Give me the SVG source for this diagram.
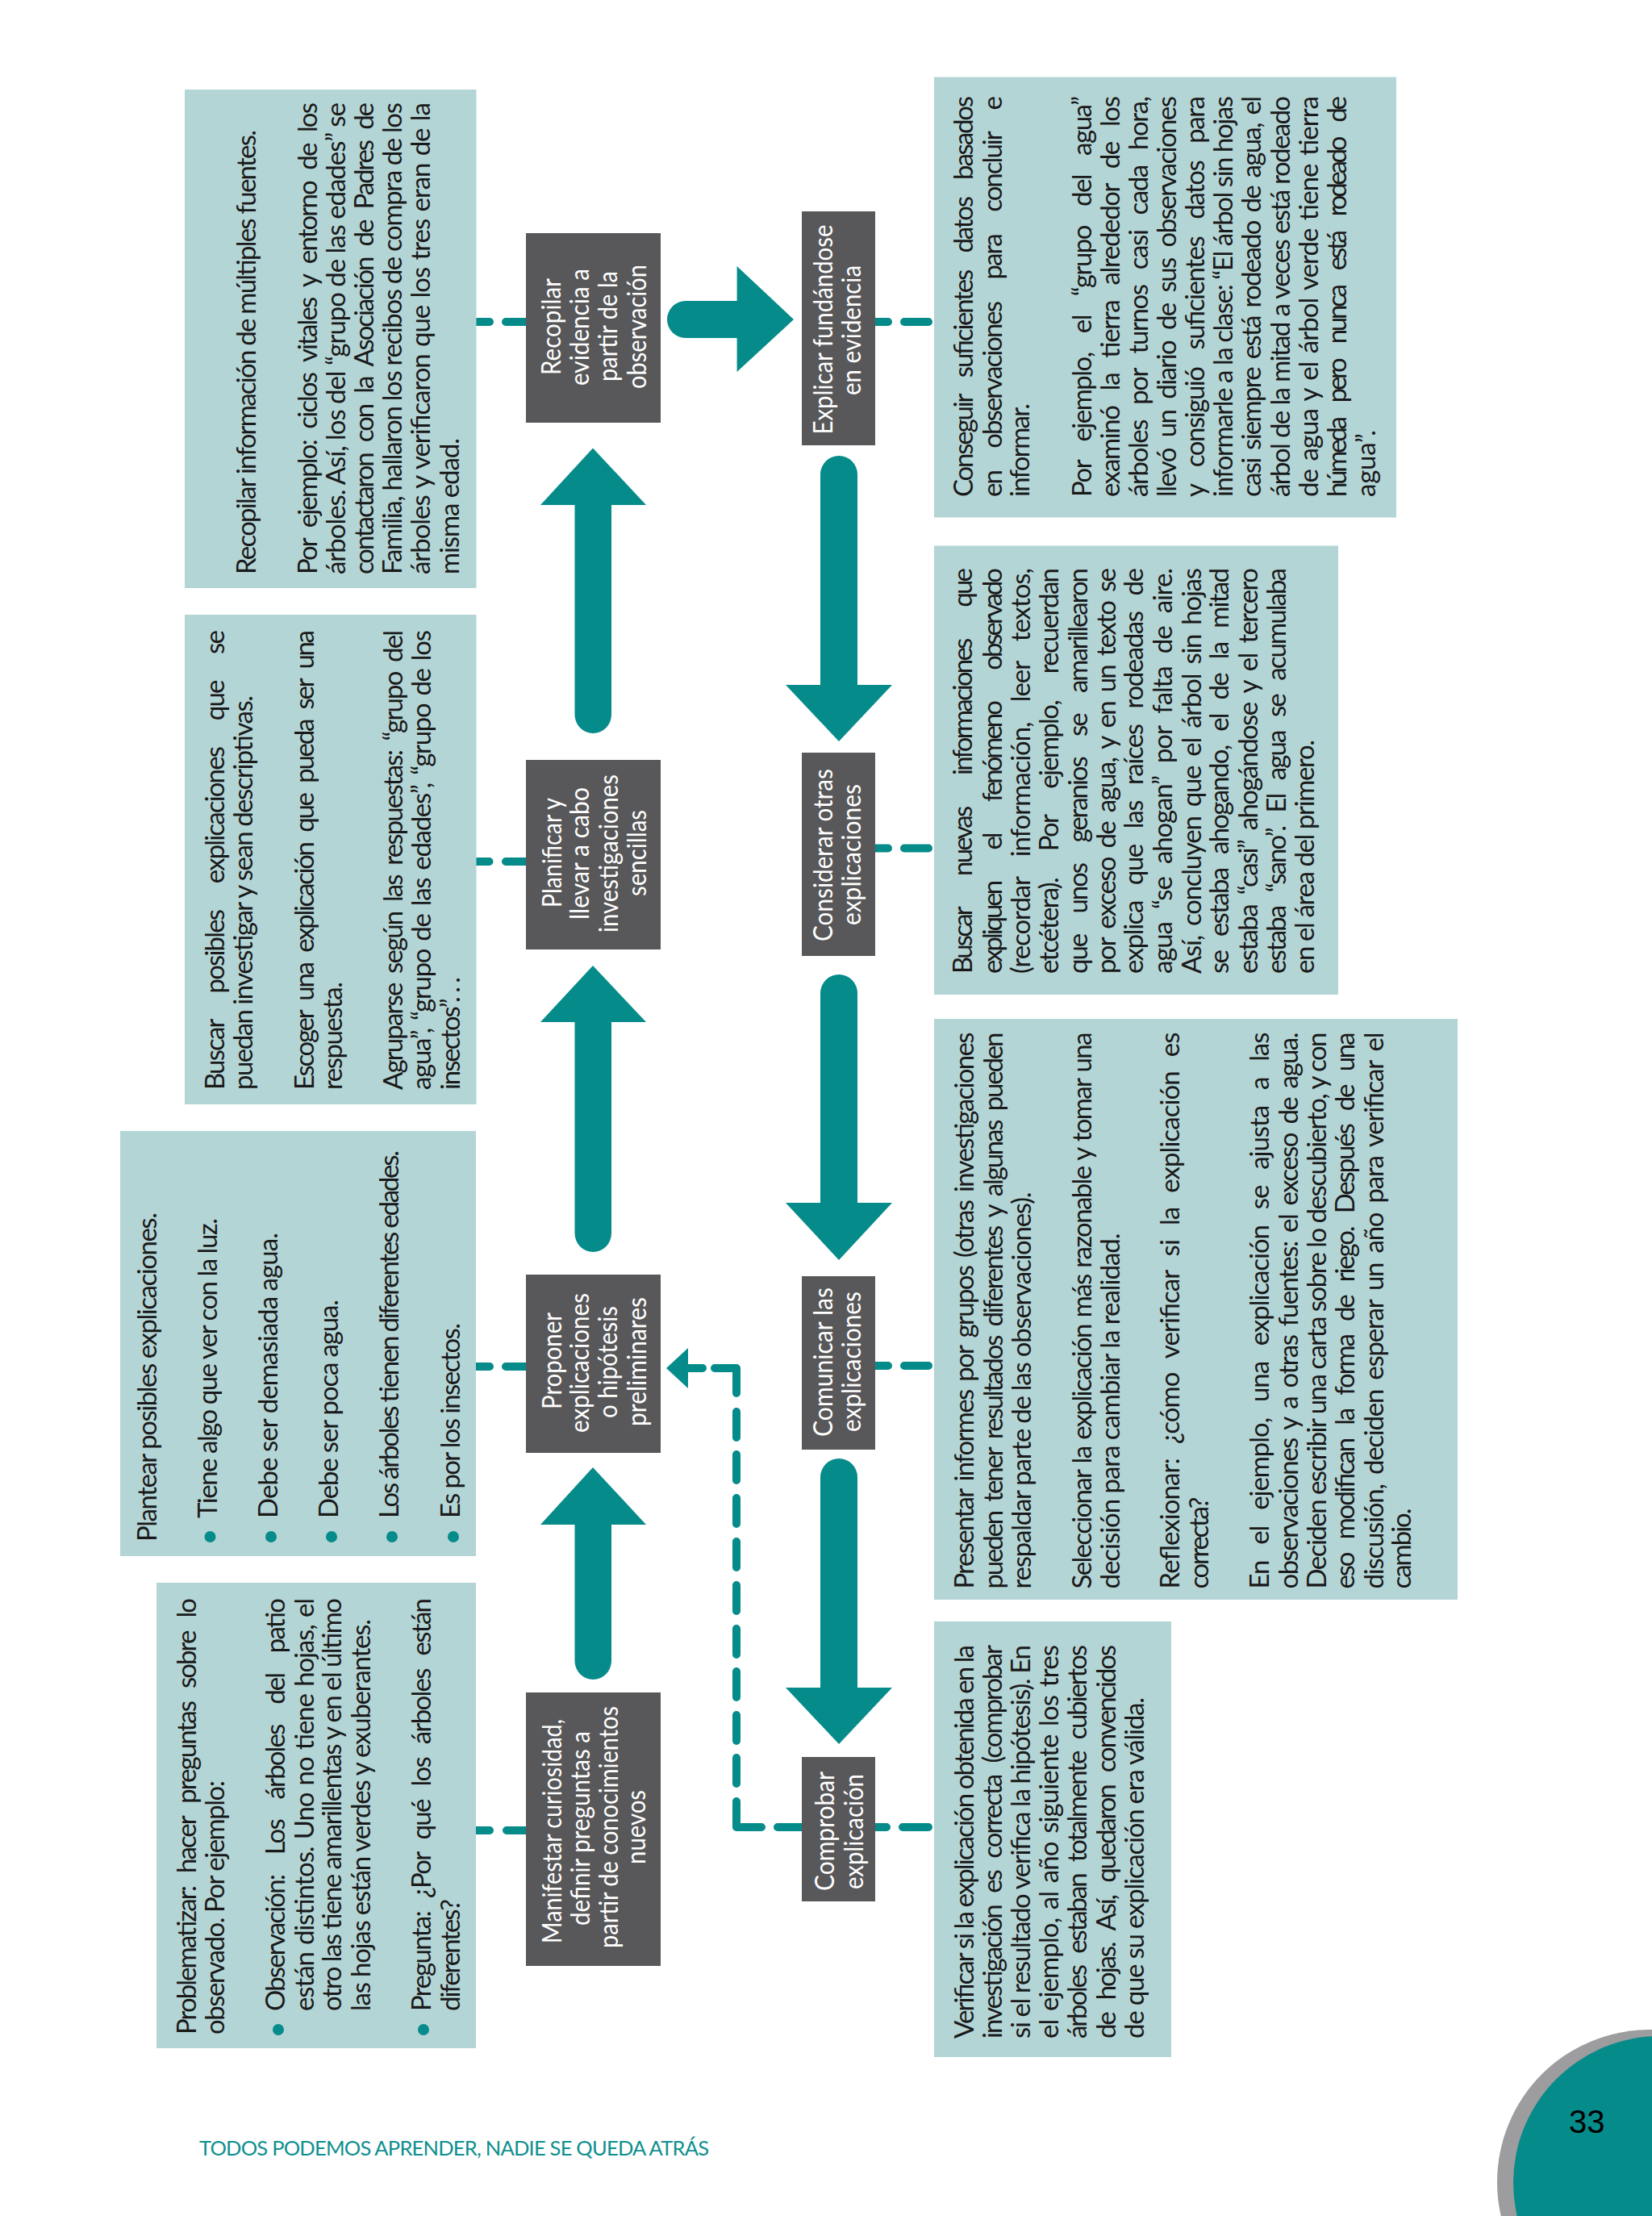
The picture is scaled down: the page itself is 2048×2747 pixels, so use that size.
<svg xmlns="http://www.w3.org/2000/svg" width="2048" height="2747" viewBox="0 0 2048 2747">
<style>
.card{fill:#b4d5d6}
.step{fill:#58585a}
.big{fill:#068b8b}
.dash{fill:none;stroke:#068b8b;stroke-width:10;stroke-linecap:round;stroke-linejoin:round}
.bul{fill:#068b8b}
.b{font-family:"Lato","Liberation Sans",sans-serif;font-size:33px;fill:#1a1a1a}
.n{font-family:"Lato","Liberation Sans",sans-serif;font-size:32px;font-weight:400;fill:#fff}
.foot{font-family:"Lato","Liberation Sans",sans-serif;font-size:25.500px;fill:#0e8f8f}
.num{font-family:"Liberation Sans",sans-serif;font-size:40px;fill:#000}
</style>
<rect width="2048" height="2747" fill="#fff"/>
<g id="connectors">
<path class="dash" d="M585 2269H607M628 2269H652M585 1694H607M627 1694H652M585 1068H606.500M627 1068H652M585 399H607M627 399H652"/>
<path class="dash" d="M1085 399H1101M1121 399H1151M1085 1051.500H1101M1121 1051.500H1151M1085 1693H1101M1121 1693H1151M1085 2265H1099M1119 2265H1151"/>
<path class="dash" d="M964 2265H994M944 2265H913V2233M913 2179V2211M913 2126V2158M913 2072V2104M913 2019V2051M913 1965V1997M913 1911V1943M913 1857V1889M913 1803V1835M913 1750V1782M913 1727V1696H886M871 1696H853"/>
<polygon class="big" points="826,1696 853,1671 853,1721"/>
<path class="big" d="M712.500 2059V1890H670L735 1819L801 1890H758V2059A22.750 23 0 0 1 712.500 2059Z"/>
<path class="big" d="M712.500 1529V1267H670L735 1197L801 1267H758V1529A22.750 23 0 0 1 712.500 1529Z"/>
<path class="big" d="M712.500 886V626H670L735 555.500L801 626H758V886A22.750 23 0 0 1 712.500 886Z"/>
<path class="big" d="M850 373H913.600V330L984 396L913.600 461V419H850A23 23 0 0 1 850 373Z"/>
<path class="big" d="M1017 588A23 23 0 0 1 1063 588V849H1106L1040 919L974 849H1017Z"/>
<path class="big" d="M1017 1231A23 23 0 0 1 1063 1231V1491H1106L1040 1562L974 1491H1017Z"/>
<path class="big" d="M1017 1831A23 23 0 0 1 1063 1831V2092H1106L1040 2162L974 2092H1017Z"/>
</g>
<g id="card-problematizar">
<rect class="card" x="194" y="1962" width="396" height="577"/>
<circle class="bul" cx="345" cy="2516" r="7"/><circle class="bul" cx="525" cy="2516" r="7"/>
<text class="b" transform="translate(243 2522) rotate(-90)" textLength="541" word-spacing="10.500">Problematizar: hacer preguntas sobre lo</text>
<text class="b" transform="translate(278 2522) rotate(-90)" textLength="315">observado. Por ejemplo:</text>
<text class="b" transform="translate(353 2493) rotate(-90)" textLength="512" word-spacing="19">Observación: Los árboles del patio</text>
<text class="b" transform="translate(389 2493) rotate(-90)" textLength="512" word-spacing="2">están distintos. Uno no tiene hojas, el</text>
<text class="b" transform="translate(423 2493) rotate(-90)" textLength="512">otro las tiene amarillentas y en el último</text>
<text class="b" transform="translate(459 2493) rotate(-90)" textLength="486">las hojas están verdes y exuberantes.</text>
<text class="b" transform="translate(534 2493) rotate(-90)" textLength="512" word-spacing="10">Pregunta: ¿Por qué los árboles están</text>
<text class="b" transform="translate(570 2493) rotate(-90)" textLength="139">diferentes?</text>
</g>
<g id="card-plantear">
<rect class="card" x="149" y="1402" width="441" height="527"/>
<circle class="bul" cx="260.500" cy="1905" r="7"/><circle class="bul" cx="336" cy="1905" r="7"/><circle class="bul" cx="411" cy="1905" r="7"/><circle class="bul" cx="486" cy="1905" r="7"/><circle class="bul" cx="562" cy="1905" r="7"/>
<text class="b" transform="translate(194 1911) rotate(-90)" textLength="408">Plantear posibles explicaciones.</text>
<text class="b" transform="translate(269 1882) rotate(-90)" textLength="372">Tiene algo que ver con la luz.</text>
<text class="b" transform="translate(344 1882) rotate(-90)" textLength="354">Debe ser demasiada agua.</text>
<text class="b" transform="translate(419 1882) rotate(-90)" textLength="271">Debe ser poca agua.</text>
<text class="b" transform="translate(494 1882) rotate(-90)" textLength="456">Los árboles tienen diferentes edades.</text>
<text class="b" transform="translate(569.500 1882) rotate(-90)" textLength="242">Es por los insectos.</text>
</g>
<g id="card-buscar-posibles">
<rect class="card" x="229" y="762" width="361.500" height="607"/>
<text class="b" transform="translate(278 1351) rotate(-90)" textLength="570" word-spacing="27">Buscar posibles explicaciones que se</text>
<text class="b" transform="translate(313 1351) rotate(-90)" textLength="489">puedan investigar y sean descriptivas.</text>
<text class="b" transform="translate(389 1351) rotate(-90)" textLength="570" word-spacing="7.500">Escoger una explicación que pueda ser una</text>
<text class="b" transform="translate(424 1351) rotate(-90)" textLength="134">respuesta.</text>
<text class="b" transform="translate(499 1351) rotate(-90)" textLength="570" word-spacing="6">Agruparse según las respuestas: “grupo del</text>
<text class="b" transform="translate(533.500 1351) rotate(-90)" textLength="570" word-spacing="3">agua”, “grupo de las edades”, “grupo de los</text>
<text class="b" transform="translate(570 1351) rotate(-90)" textLength="140">insectos”. . .</text>
</g>
<g id="card-recopilar">
<rect class="card" x="229" y="111" width="361.500" height="618"/>
<text class="b" transform="translate(317 712) rotate(-90)" textLength="551">Recopilar información de múltiples fuentes.</text>
<text class="b" transform="translate(393 712) rotate(-90)" textLength="585" word-spacing="8">Por ejemplo: ciclos vitales y entorno de los</text>
<text class="b" transform="translate(427.600 712) rotate(-90)" textLength="585">árboles. Así, los del “grupo de las edades” se</text>
<text class="b" transform="translate(463 712) rotate(-90)" textLength="585" word-spacing="8">contactaron con la Asociación de Padres de</text>
<text class="b" transform="translate(498 712) rotate(-90)" textLength="585">Familia, hallaron los recibos de compra de los</text>
<text class="b" transform="translate(533 712) rotate(-90)" textLength="585" word-spacing="2">árboles y verificaron que los tres eran de la</text>
<text class="b" transform="translate(569 712) rotate(-90)" textLength="169">misma edad.</text>
</g>
<g id="card-conseguir">
<rect class="card" x="1158" y="95.500" width="573" height="546"/>
<text class="b" transform="translate(1206 616) rotate(-90)" textLength="497" word-spacing="16">Conseguir suficientes datos basados</text>
<text class="b" transform="translate(1242 616) rotate(-90)" textLength="497" word-spacing="22">en observaciones para concluir e</text>
<text class="b" transform="translate(1276 616) rotate(-90)" textLength="116">informar.</text>
<text class="b" transform="translate(1353 616) rotate(-90)" textLength="497" word-spacing="17">Por ejemplo, el “grupo del agua”</text>
<text class="b" transform="translate(1388 616) rotate(-90)" textLength="497" word-spacing="12">examinó la tierra alrededor de los</text>
<text class="b" transform="translate(1423 616) rotate(-90)" textLength="497" word-spacing="12">árboles por turnos casi cada hora,</text>
<text class="b" transform="translate(1457.500 616) rotate(-90)" textLength="497" word-spacing="7">llevó un diario de sus observaciones</text>
<text class="b" transform="translate(1493 616) rotate(-90)" textLength="497" word-spacing="15">y consiguió suficientes datos para</text>
<text class="b" transform="translate(1527.500 616) rotate(-90)" textLength="497">informarle a la clase: “El árbol sin hojas</text>
<text class="b" transform="translate(1563 616) rotate(-90)" textLength="497" word-spacing="4">casi siempre está rodeado de agua, el</text>
<text class="b" transform="translate(1599 616) rotate(-90)" textLength="497" word-spacing="1">árbol de la mitad a veces está rodeado</text>
<text class="b" transform="translate(1634 616) rotate(-90)" textLength="497" word-spacing="3">de agua y el árbol verde tiene tierra</text>
<text class="b" transform="translate(1669 616) rotate(-90)" textLength="497" word-spacing="15">húmeda pero nunca está rodeado de</text>
<text class="b" transform="translate(1705 616) rotate(-90)" textLength="83">agua”.</text>
</g>
<g id="card-buscar-nuevas">
<rect class="card" x="1158" y="676.500" width="501" height="556.500"/>
<text class="b" transform="translate(1205 1207) rotate(-90)" textLength="503" word-spacing="35">Buscar nuevas informaciones que</text>
<text class="b" transform="translate(1242 1207) rotate(-90)" textLength="503" word-spacing="35">expliquen el fenómeno observado</text>
<text class="b" transform="translate(1277 1207) rotate(-90)" textLength="503" word-spacing="18">(recordar información, leer textos,</text>
<text class="b" transform="translate(1311.500 1207) rotate(-90)" textLength="503" word-spacing="27">etcétera). Por ejemplo, recuerdan</text>
<text class="b" transform="translate(1348 1207) rotate(-90)" textLength="503" word-spacing="20">que unos geranios se amarillearon</text>
<text class="b" transform="translate(1383 1207) rotate(-90)" textLength="503" word-spacing="5">por exceso de agua, y en un texto se</text>
<text class="b" transform="translate(1417 1207) rotate(-90)" textLength="503" word-spacing="13">explica que las raíces rodeadas de</text>
<text class="b" transform="translate(1453 1207) rotate(-90)" textLength="503" word-spacing="9">agua “se ahogan” por falta de aire.</text>
<text class="b" transform="translate(1488.500 1207) rotate(-90)" textLength="503" word-spacing="5">Así, concluyen que el árbol sin hojas</text>
<text class="b" transform="translate(1523 1207) rotate(-90)" textLength="503" word-spacing="11">se estaba ahogando, el de la mitad</text>
<text class="b" transform="translate(1559 1207) rotate(-90)" textLength="503" word-spacing="6">estaba “casi” ahogándose y el tercero</text>
<text class="b" transform="translate(1594 1207) rotate(-90)" textLength="503" word-spacing="11">estaba “sano”. El agua se acumulaba</text>
<text class="b" transform="translate(1629 1207) rotate(-90)" textLength="290">en el área del primero.</text>
</g>
<g id="card-presentar">
<rect class="card" x="1158" y="1263" width="649" height="720"/>
<text class="b" transform="translate(1207 1969.500) rotate(-90)" textLength="690" word-spacing="4">Presentar informes por grupos (otras investigaciones</text>
<text class="b" transform="translate(1243 1969.500) rotate(-90)" textLength="690" word-spacing="6">pueden tener resultados diferentes y algunas pueden</text>
<text class="b" transform="translate(1278 1969.500) rotate(-90)" textLength="492">respaldar parte de las observaciones).</text>
<text class="b" transform="translate(1353 1969.500) rotate(-90)" textLength="690" word-spacing="2">Seleccionar la explicación más razonable y tomar una</text>
<text class="b" transform="translate(1388 1969.500) rotate(-90)" textLength="441">decisión para cambiar la realidad.</text>
<text class="b" transform="translate(1462 1969.500) rotate(-90)" textLength="690" word-spacing="10.500">Reflexionar: ¿cómo verificar si la explicación es</text>
<text class="b" transform="translate(1498 1969.500) rotate(-90)" textLength="114">correcta?</text>
<text class="b" transform="translate(1573 1969.500) rotate(-90)" textLength="690" word-spacing="12.500">En el ejemplo, una explicación se ajusta a las</text>
<text class="b" transform="translate(1609 1969.500) rotate(-90)" textLength="690" word-spacing="4.500">observaciones y a otras fuentes: el exceso de agua.</text>
<text class="b" transform="translate(1643.600 1969.500) rotate(-90)" textLength="690">Deciden escribir una carta sobre lo descubierto, y con</text>
<text class="b" transform="translate(1679 1969.500) rotate(-90)" textLength="690" word-spacing="11">eso modifican la forma de riego. Después de una</text>
<text class="b" transform="translate(1714.500 1969.500) rotate(-90)" textLength="690" word-spacing="5">discusión, deciden esperar un año para verificar el</text>
<text class="b" transform="translate(1749 1969.500) rotate(-90)" textLength="100">cambio.</text>
</g>
<g id="card-verificar">
<rect class="card" x="1158" y="2010" width="294" height="540"/>
<text class="b" transform="translate(1207 2527) rotate(-90)" textLength="488">Verificar si la explicación obtenida en la</text>
<text class="b" transform="translate(1242 2527) rotate(-90)" textLength="488" word-spacing="9">investigación es correcta (comprobar</text>
<text class="b" transform="translate(1277 2527) rotate(-90)" textLength="488">si el resultado verifica la hipótesis). En</text>
<text class="b" transform="translate(1312 2527) rotate(-90)" textLength="488" word-spacing="3">el ejemplo, al año siguiente los tres</text>
<text class="b" transform="translate(1347 2527) rotate(-90)" textLength="488" word-spacing="9">árboles estaban totalmente cubiertos</text>
<text class="b" transform="translate(1383 2527) rotate(-90)" textLength="488" word-spacing="10">de hojas. Así, quedaron convencidos</text>
<text class="b" transform="translate(1418 2527) rotate(-90)" textLength="423">de que su explicación era válida.</text>
</g>
<g id="node-manifestar">
<rect class="step" x="652" y="2098" width="167" height="339"/>
<text class="n" transform="translate(696 2409) rotate(-90)" textLength="278" lengthAdjust="spacingAndGlyphs">Manifestar curiosidad,</text>
<text class="n" transform="translate(731 2387) rotate(-90)" textLength="241" lengthAdjust="spacingAndGlyphs">definir preguntas a</text>
<text class="n" transform="translate(765.500 2415) rotate(-90)" textLength="300" lengthAdjust="spacingAndGlyphs">partir de conocimientos</text>
<text class="n" transform="translate(800 2311) rotate(-90)" textLength="92" lengthAdjust="spacingAndGlyphs">nuevos</text>
</g>
<g id="node-proponer">
<rect class="step" x="652" y="1580" width="167" height="221"/>
<text class="n" transform="translate(696 1747) rotate(-90)" textLength="120" lengthAdjust="spacingAndGlyphs">Proponer</text>
<text class="n" transform="translate(730 1776) rotate(-90)" textLength="173" lengthAdjust="spacingAndGlyphs">explicaciones</text>
<text class="n" transform="translate(765 1758) rotate(-90)" textLength="139" lengthAdjust="spacingAndGlyphs">o hipótesis</text>
<text class="n" transform="translate(801 1768) rotate(-90)" textLength="160" lengthAdjust="spacingAndGlyphs">preliminares</text>
</g>
<g id="node-planificar">
<rect class="step" x="652" y="942" width="167" height="235"/>
<text class="n" transform="translate(696 1125) rotate(-90)" textLength="136" lengthAdjust="spacingAndGlyphs">Planificar y</text>
<text class="n" transform="translate(730 1140) rotate(-90)" textLength="164" lengthAdjust="spacingAndGlyphs">llevar a cabo</text>
<text class="n" transform="translate(766 1156) rotate(-90)" textLength="196" lengthAdjust="spacingAndGlyphs">investigaciones</text>
<text class="n" transform="translate(801 1111) rotate(-90)" textLength="107" lengthAdjust="spacingAndGlyphs">sencillas</text>
</g>
<g id="node-recopilar">
<rect class="step" x="652" y="289" width="167" height="235"/>
<text class="n" transform="translate(695 465) rotate(-90)" textLength="120" lengthAdjust="spacingAndGlyphs">Recopilar</text>
<text class="n" transform="translate(730 478) rotate(-90)" textLength="145" lengthAdjust="spacingAndGlyphs">evidencia a</text>
<text class="n" transform="translate(765 473) rotate(-90)" textLength="137" lengthAdjust="spacingAndGlyphs">partir de la</text>
<text class="n" transform="translate(801 482) rotate(-90)" textLength="154" lengthAdjust="spacingAndGlyphs">observación</text>
</g>
<g id="node-explicar">
<rect class="step" x="994" y="262" width="91" height="290"/>
<text class="n" transform="translate(1032 538.500) rotate(-90)" textLength="260" lengthAdjust="spacingAndGlyphs">Explicar fundándose</text>
<text class="n" transform="translate(1067 490) rotate(-90)" textLength="161" lengthAdjust="spacingAndGlyphs">en evidencia</text>
</g>
<g id="node-considerar">
<rect class="step" x="994" y="933" width="91" height="252"/>
<text class="n" transform="translate(1032 1167) rotate(-90)" textLength="214" lengthAdjust="spacingAndGlyphs">Considerar otras</text>
<text class="n" transform="translate(1067 1147) rotate(-90)" textLength="175" lengthAdjust="spacingAndGlyphs">explicaciones</text>
</g>
<g id="node-comunicar">
<rect class="step" x="994" y="1582" width="91" height="215"/>
<text class="n" transform="translate(1032 1781) rotate(-90)" textLength="185" lengthAdjust="spacingAndGlyphs">Comunicar las</text>
<text class="n" transform="translate(1067 1775) rotate(-90)" textLength="174" lengthAdjust="spacingAndGlyphs">explicaciones</text>
</g>
<g id="node-comprobar">
<rect class="step" x="994" y="2178" width="91" height="179"/>
<text class="n" transform="translate(1034 2344) rotate(-90)" textLength="148" lengthAdjust="spacingAndGlyphs">Comprobar</text>
<text class="n" transform="translate(1070 2342) rotate(-90)" textLength="143" lengthAdjust="spacingAndGlyphs">explicación</text>
</g>
<g id="page-number">
<circle cx="2045" cy="2705" r="189" fill="#9d9c9e"/>
<circle cx="2058" cy="2706" r="182" fill="#068b8b"/>
<text class="num" x="1945" y="2644">33</text>
</g>
<text class="foot" x="247" y="2672" textLength="632">TODOS PODEMOS APRENDER, NADIE SE QUEDA ATRÁS</text>
</svg>
